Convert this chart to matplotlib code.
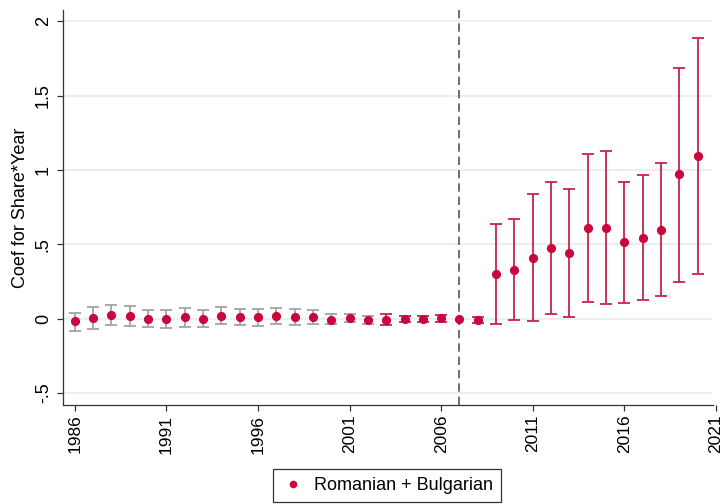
import numpy as np
import matplotlib
matplotlib.use("Agg")
import matplotlib.pyplot as plt
from matplotlib.lines import Line2D

plt.rcParams['font.family'] = ['Liberation Sans', 'DejaVu Sans']

# event-study coefficients by year, with 95% confidence bounds
years = list(range(1986, 2021))
coef = [-0.017, 0.003, 0.023, 0.018, 0.000, -0.002, 0.009, 0.000, 0.020, 0.013,
        0.009, 0.018, 0.011, 0.013, -0.007, 0.004, -0.009, -0.009, -0.004, 0.000,
        0.002, 0.000, -0.009, 0.300, 0.330, 0.410, 0.475, 0.444, 0.608, 0.612,
        0.514, 0.545, 0.599, 0.971, 1.096]
ci_high = [0.040, 0.077, 0.090, 0.085, 0.058, 0.056, 0.072, 0.058, 0.077, 0.067,
           0.063, 0.070, 0.063, 0.058, 0.030, 0.030, 0.020, 0.030, 0.016, 0.018,
           0.023, np.nan, 0.009, 0.640, 0.670, 0.840, 0.917, 0.872, 1.108, 1.128,
           0.917, 0.964, 1.047, 1.688, 1.890]
ci_low = [-0.080, -0.069, -0.045, -0.050, -0.058, -0.063, -0.058, -0.058, -0.036, -0.042,
          -0.047, -0.036, -0.042, -0.034, -0.038, -0.025, -0.038, -0.042, -0.024, -0.022,
          -0.020, np.nan, -0.027, -0.034, -0.009, -0.015, 0.034, 0.014, 0.110, 0.101,
          0.108, 0.126, 0.155, 0.249, 0.303]
first_highlight = 2003   # bars in red from this year on
ref_year = 2007          # accession year (omitted category)

y_ticks = [-0.5, 0, 0.5, 1, 1.5, 2]
y_ticklabels = ["-.5", "0", ".5", "1", "1.5", "2"]
x_ticks = list(range(1986, 2022, 5))

red = "#C8073A"
red_bar = "#C8244C"
grey_bar = "#A3A3A3"

years = np.array(years)
coef = np.array(coef)
ci_low = np.array(ci_low)
ci_high = np.array(ci_high)

x0, x1 = 1985.36, 2021.0

fig = plt.figure(figsize=(7.23, 5.04), dpi=100)
ax = fig.add_axes([0.0871, 0.1964, 0.9032, 0.7836])

for yt in y_ticks:
    ax.axhline(yt, xmax=0.993, color="#E6EEF0", lw=1.2, zorder=0)

ax.axvline(ref_year, color="#555555", lw=1.2, ls=(0, (5, 3)), zorder=1)

has_ci = ~np.isnan(ci_low)
for mask, col in [((years < first_highlight) & has_ci, grey_bar),
                  ((years >= first_highlight) & has_ci, red_bar)]:
    ax.errorbar(years[mask], coef[mask],
                yerr=[coef[mask] - ci_low[mask], ci_high[mask] - coef[mask]],
                fmt="none", ecolor=col, elinewidth=1.3, capsize=4, capthick=1.3,
                zorder=2)

ax.plot(years, coef, "o", color=red, ms=5.6, zorder=3)

ax.set_xlim(x0, x1)
ax.set_ylim(-0.58, 2.076)
ax.set_yticks(y_ticks)
ax.set_yticklabels(y_ticklabels, rotation=90, va="center")
ax.set_xticks(x_ticks)
ax.set_xticklabels([str(x) for x in x_ticks], rotation=90)
ax.tick_params(axis="both", direction="out", length=4, width=0.9, labelsize=12.5,
               color="#333333")
ax.tick_params(axis="y", labelsize=13, pad=4)
ax.tick_params(axis="x", pad=3)

for s in ["top", "right"]:
    ax.spines[s].set_visible(False)
for s in ["left", "bottom"]:
    ax.spines[s].set_linewidth(0.9)
    ax.spines[s].set_color("#333333")
ax.spines["bottom"].set_bounds(x0, 2020.85)

ax.set_ylabel("Coef for Share*Year", fontsize=13, labelpad=4)

handle = Line2D([], [], marker="o", ls="none", color=red, ms=4.5)
leg = fig.legend([handle], ["Romanian + Bulgarian"], loc="center",
                 bbox_to_anchor=(0.535, 0.036), fontsize=13, frameon=True,
                 fancybox=False, edgecolor="black", handletextpad=0.5,
                 borderpad=0.45, handlelength=1.3)
leg.get_frame().set_linewidth(0.9)

fig.savefig("out.png", dpi=100)
